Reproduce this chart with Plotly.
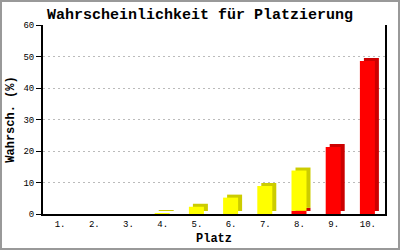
import numpy as np
import plotly.graph_objects as go

places = [1, 2, 3, 4, 5, 6, 7, 8, 9, 10]
tick_labels = ["1.", "2.", "3.", "4.", "5.", "6.", "7.", "8.", "9.", "10."]
red_vals = [0, 0, 0, 0, 0, 0, 0, 1.0, 21.3, 48.6]
yellow_vals = [0, 0, 0, 0.3, 2.3, 5.2, 8.9, 12.8, 0, 0]

W, H = 400, 250
ML, MR, MT, MB = 43, 15, 25, 36
PW, PH = W - ML - MR, H - MT - MB
YMAX = 60

cat_px = PW / 10.0
front_w = 15 / cat_px
front_off = -8 / cat_px
depth_x = 4 / cat_px
depth_y = 3 * YMAX / PH

red = np.array(red_vals, dtype=float)
yel = np.array(yellow_vals, dtype=float)

fig = go.Figure()

def add_bar(vals, base, color, off):
    fig.add_trace(go.Bar(
        x=places, y=vals, base=base, width=front_w, offset=off,
        marker=dict(color=color, line=dict(width=0)), showlegend=False,
        hoverinfo="skip"))

# depth (3D side) faces
add_bar(red, np.zeros(10) + depth_y, "#CC0000", front_off + depth_x)
add_bar(yel, red + depth_y, "#CCCC00", front_off + depth_x)
# front faces
add_bar(red, np.zeros(10), "#FF0000", front_off)
add_bar(yel, red, "#FFFF00", front_off)

fig.update_layout(
    width=W, height=H, barmode="overlay",
    margin=dict(l=ML, r=MR, t=MT, b=MB, autoexpand=False),
    paper_bgcolor="white", plot_bgcolor="white",
    font=dict(family="Liberation Mono", color="black"),
    title=dict(text="<b>Wahrscheinlichkeit für Platzierung</b>",
               font=dict(size=15, family="Liberation Mono"),
               x=0.5, xanchor="center", y=1 - 14 / H, yanchor="middle"),
    xaxis=dict(range=[0.5, 10.5], tickvals=places, ticktext=tick_labels,
               automargin=False,
               showgrid=False, zeroline=False, showline=True,
               linecolor="black", linewidth=2, ticks="",
               tickfont=dict(size=9), ticklabelstandoff=0,
               title=dict(text="<b>Platz</b>", font=dict(size=12), standoff=5)),
    yaxis=dict(range=[0, YMAX], dtick=10, showgrid=True, automargin=False,
               gridcolor="#BBBBBB", griddash="2px,3px", gridwidth=1,
               zeroline=False, showline=True, linecolor="black", linewidth=2,
               mirror=True, ticks="outside", ticklen=5, tickcolor="black",
               tickwidth=1, tickfont=dict(size=9),
               title=dict(text="<b>Wahrsch. (%)</b>", font=dict(size=12), standoff=6)),
)

# outer gray frame of the image
fig.add_shape(type="rect", xref="paper", yref="paper",
              x0=(1 - ML) / PW, x1=(W - 1 - ML) / PW,
              y0=-(H - 1 - MT - PH) / PH, y1=(H - 1 - MB) / PH,
              line=dict(color="#999999", width=2), fillcolor="rgba(0,0,0,0)",
              layer="below")

fig.write_html("out.html")
